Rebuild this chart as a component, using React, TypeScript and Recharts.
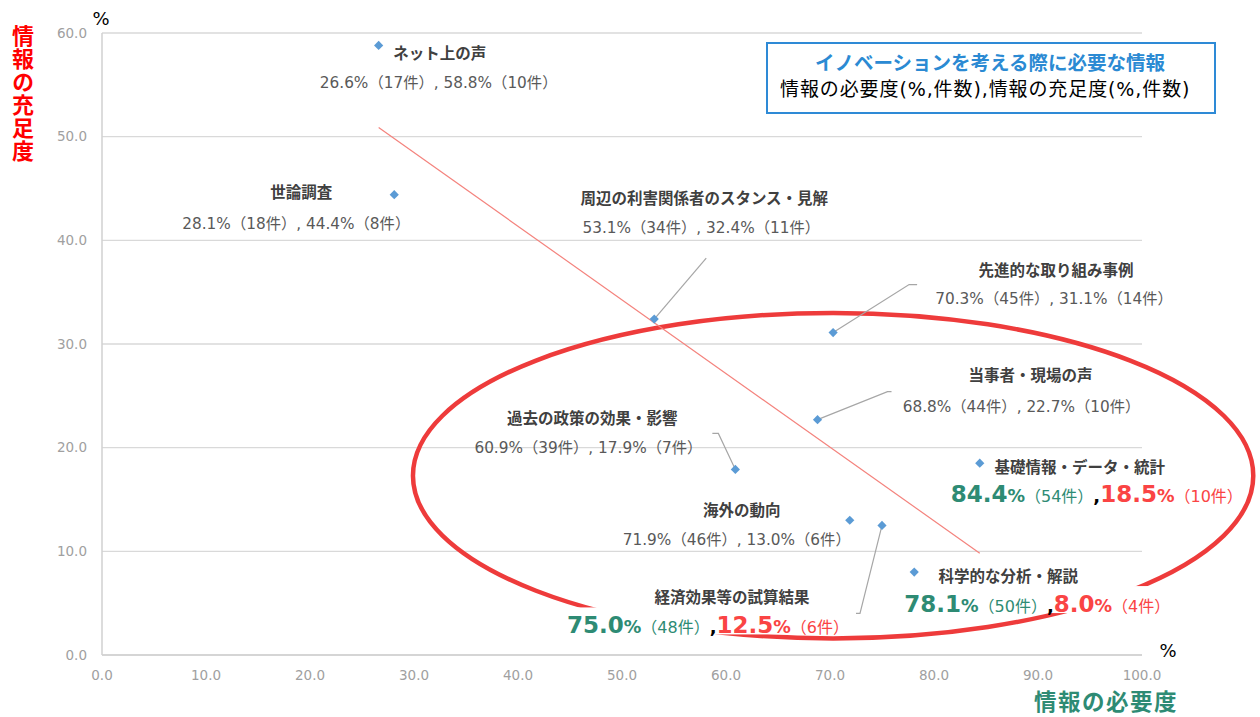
import React from 'react';
import { ScatterChart, Scatter, XAxis, YAxis, CartesianGrid, Customized } from 'recharts';

// ---------- data ----------
const ITEMS = [
  'ネット上の声',
  '世論調査',
  '周辺の利害関係者のスタンス・見解',
  '先進的な取り組み事例',
  '当事者・現場の声',
  '過去の政策の効果・影響',
  '基礎情報・データ・統計',
  '海外の動向',
  '経済効果等の試算結果',
  '科学的な分析・解説',
];
const NEED_PCT = [26.6, 28.1, 53.1, 70.3, 68.8, 60.9, 84.4, 71.9, 75.0, 78.1];
const NEED_CNT = [17, 18, 34, 45, 44, 39, 54, 46, 48, 50];
const SUFF_PCT = [58.8, 44.4, 32.4, 31.1, 22.7, 17.9, 18.5, 13.0, 12.5, 8.0];
const SUFF_CNT = [10, 8, 11, 14, 10, 7, 10, 6, 6, 4];
const HIGHLIGHT = [false, false, false, false, false, false, true, false, true, true];

const X_TICKS = [0, 10, 20, 30, 40, 50, 60, 70, 80, 90, 100];
const Y_TICKS = [0, 10, 20, 30, 40, 50, 60];

const TITLE = 'イノベーションを考える際に必要な情報';
const SUBTITLE = '情報の必要度(%,件数),情報の充足度(%,件数)';
const X_TITLE = '情報の必要度';
const Y_TITLE = '情報の充足度';

// highlight ellipse (data units)
const ELLIPSE_CENTER = [{ x: 70.3, y: 17.3 }];
const ELLIPSE_RX = 40.4;
const ELLIPSE_RY = 15.7;
const ELLIPSE_ROT = 0;

// ---------- layout (pixel offsets of label texts relative to their point) ----------
type Layout = { nameDx: number; nameDy: number; valDx: number; valDy: number; leader?: [number, number][] };
const LABEL_LAYOUT: Layout[] = [
  { nameDx: 61, nameDy: 14, valDx: 60, valDy: 43 },
  { nameDx: -93, nameDy: 3, valDx: -98, valDy: 34 },
  { nameDx: 50, nameDy: -115, valDx: 47, valDy: -86, leader: [[52, -61], [0, 0]] },
  { nameDx: 223, nameDy: -57, valDx: 221, valDy: -29, leader: [[84, -48], [76, -48], [0, 0]] },
  { nameDx: 213, nameDy: -39, valDx: 204, valDy: -8, leader: [[74, -28], [70, -28], [0, 0]] },
  { nameDx: -143, nameDy: -45, valDx: -147, valDy: -16, leader: [[-23, -36], [-17, -36], [0, 0]] },
  { nameDx: 100, nameDy: 10, valDx: 117, valDy: 39 },
  { nameDx: -108, nameDy: -4, valDx: -113, valDy: 25 },
  { nameDx: -150, nameDy: 78, valDx: -174, valDy: 108, leader: [[-29, 88], [-22, 88], [0, 0]] },
  { nameDx: 94, nameDy: 10, valDx: 123, valDy: 40 },
];

// ---------- styling ----------
const FONT = "'DejaVu Sans', 'Noto Sans CJK JP', sans-serif";
const JP = "'Noto Sans CJK JP', sans-serif";
const GREEN = '#2e8b74';
const RED = '#fa4444';
const BLUE_MARK = '#5b9bd5';

const W = 1260;
const H = 717;
const M = { top: 33, right: 118, bottom: 32, left: 42 };
const Y_AXIS_W = 60;
const X_AXIS_H = 30;
const PLOT_W = W - M.left - Y_AXIS_W - M.right;
const PLOT_H = H - M.top - M.bottom - X_AXIS_H;
const X_MAX = 100;
const Y_MAX = 60;

// ---------- derived ----------
const points = ITEMS.map((name, i) => ({
  name,
  x: NEED_PCT[i],
  y: SUFF_PCT[i],
  n1: NEED_CNT[i],
  n2: SUFF_CNT[i],
  hl: HIGHLIGHT[i],
  idx: i,
}));

function linearFit(xs: number[], ys: number[]) {
  const n = xs.length;
  const mx = xs.reduce((a, b) => a + b, 0) / n;
  const my = ys.reduce((a, b) => a + b, 0) / n;
  let sxy = 0;
  let sxx = 0;
  for (let i = 0; i < n; i++) {
    sxy += (xs[i] - mx) * (ys[i] - my);
    sxx += (xs[i] - mx) * (xs[i] - mx);
  }
  const b = sxy / sxx;
  return { a: my - b * mx, b };
}
const fit = linearFit(NEED_PCT, SUFF_PCT);
const xMin = Math.min(...NEED_PCT);
const xMax = Math.max(...NEED_PCT);
const TREND = [
  { x: xMin, y: fit.a + fit.b * xMin },
  { x: xMax, y: fit.a + fit.b * xMax },
];

// ---------- shapes ----------
const EllipseShape = (props: any) => {
  const { cx, cy } = props;
  if (cx == null || cy == null) return <g />;
  const rx = (ELLIPSE_RX / X_MAX) * PLOT_W;
  const ry = (ELLIPSE_RY / Y_MAX) * PLOT_H;
  return (
    <ellipse
      cx={cx}
      cy={cy}
      rx={rx}
      ry={ry}
      fill="none"
      stroke="#ee3b3b"
      strokeWidth={4.5}
      transform={`rotate(${ELLIPSE_ROT} ${cx} ${cy})`}
    />
  );
};

const NoShape = () => <g />;

const PointShape = (props: any) => {
  const { cx, cy, payload } = props;
  if (cx == null || cy == null) return <g />;
  const L = LABEL_LAYOUT[payload.idx];
  const s = 4.6;
  const diamond = `M${cx},${cy - s} L${cx + s},${cy} L${cx},${cy + s} L${cx - s},${cy} Z`;
  return (
    <g>
      {L.leader && (
        <polyline
          points={L.leader.map(([dx, dy]) => `${cx + dx},${cy + dy}`).join(' ')}
          fill="none"
          stroke="#a6a6a6"
          strokeWidth={1.2}
        />
      )}
      <text
        x={cx + L.nameDx}
        y={cy + L.nameDy}
        textAnchor="middle"
        fontFamily={JP}
        fontWeight="bold"
        fontSize={15.5}
        fill="#404040"
      >
        {payload.name}
      </text>
      {payload.hl ? (
        <g>
          <rect x={cx + L.valDx - 148} y={cy + L.valDy - 26} width={296} height={27} fill="#ffffff" />
          <text x={cx + L.valDx} y={cy + L.valDy} textAnchor="middle" fontFamily={FONT}>
            <tspan fill={GREEN} fontWeight="bold" fontSize={23}>{payload.x.toFixed(1)}</tspan>
            <tspan fill={GREEN} fontWeight="bold" fontSize={17.5}>%</tspan>
            <tspan fill={GREEN} fontSize={16}>（{payload.n1}件）</tspan>
            <tspan fill="#000000" fontWeight="bold" fontSize={18}>,</tspan>
            <tspan fill={RED} fontWeight="bold" fontSize={23}>{payload.y.toFixed(1)}</tspan>
            <tspan fill={RED} fontWeight="bold" fontSize={17.5}>%</tspan>
            <tspan fill={RED} fontSize={16}>（{payload.n2}件）</tspan>
          </text>
        </g>
      ) : (
        <text x={cx + L.valDx} y={cy + L.valDy} textAnchor="middle" fontFamily={FONT} fontSize={15.3} fill="#595959">
          {`${payload.x.toFixed(1)}%（${payload.n1}件）, ${payload.y.toFixed(1)}%（${payload.n2}件）`}
        </text>
      )}
      <path d={diamond} fill={BLUE_MARK} />
    </g>
  );
};

const Annotations = () => (
  <g>
    {/* percent unit marks */}
    <text x={101} y={25} textAnchor="middle" fontFamily={FONT} fontSize={18} fill="#000">%</text>
    <text x={1168} y={657} textAnchor="middle" fontFamily={FONT} fontSize={18} fill="#000">%</text>
    {/* y-axis title, written vertically */}
    <text
      x={23}
      y={25}
      fontFamily={JP}
      fontWeight="bold"
      fontSize={22}
      fill="#ff0000"
      letterSpacing={1}
      style={{ writingMode: 'vertical-rl' } as any}
    >
      {Y_TITLE}
    </text>
    {/* x-axis title */}
    <text
      x={1178}
      y={710}
      textAnchor="end"
      fontFamily={JP}
      fontWeight="bold"
      fontSize={22.5}
      letterSpacing={1.5}
      fill={GREEN}
    >
      {X_TITLE}
    </text>
    {/* legend box */}
    <rect x={767} y={43} width={448} height={70} fill="#ffffff" stroke="#2e8ad6" strokeWidth={2} />
    <text x={990} y={70} textAnchor="middle" fontFamily={JP} fontWeight="bold" fontSize={19.5} fill="#2b8ad3">
      {TITLE}
    </text>
    <text x={780} y={96} fontFamily={FONT} fontSize={19} letterSpacing={0.9} fill="#000">
      {SUBTITLE}
    </text>
  </g>
);

export default function App() {
  return (
    <div style={{ position: 'absolute', left: 0, top: 0, background: '#fff' }}>
      <ScatterChart width={W} height={H} margin={M}>
        <CartesianGrid vertical={false} stroke="#d9d9d9" strokeWidth={1.3} />
        <XAxis
          type="number"
          dataKey="x"
          domain={[0, X_MAX]}
          ticks={X_TICKS}
          tickFormatter={(v: number) => v.toFixed(1)}
          height={X_AXIS_H}
          axisLine={{ stroke: '#d0d0d0', strokeWidth: 1.5 }}
          tickLine={false}
          tickSize={0}
          tickMargin={15}
          tick={{ fill: '#a0a0a0', fontSize: 13.5, fontFamily: FONT }}
        />
        <YAxis
          type="number"
          dataKey="y"
          domain={[0, Y_MAX]}
          ticks={Y_TICKS}
          tickFormatter={(v: number) => v.toFixed(1)}
          width={Y_AXIS_W}
          axisLine={{ stroke: '#d0d0d0', strokeWidth: 1.5 }}
          tickLine={false}
          tickSize={0}
          tickMargin={15}
          tick={{ fill: '#a0a0a0', fontSize: 13.5, fontFamily: FONT }}
        />
        <Scatter name="ellipse" data={ELLIPSE_CENTER} shape={EllipseShape} isAnimationActive={false} />
        <Scatter
          name="trend"
          data={TREND}
          line={{ stroke: '#f4837d', strokeWidth: 1.2 }}
          shape={NoShape}
          isAnimationActive={false}
        />
        <Scatter name="items" data={points} shape={PointShape} isAnimationActive={false} />
        <Customized component={<Annotations />} />
      </ScatterChart>
    </div>
  );
}
